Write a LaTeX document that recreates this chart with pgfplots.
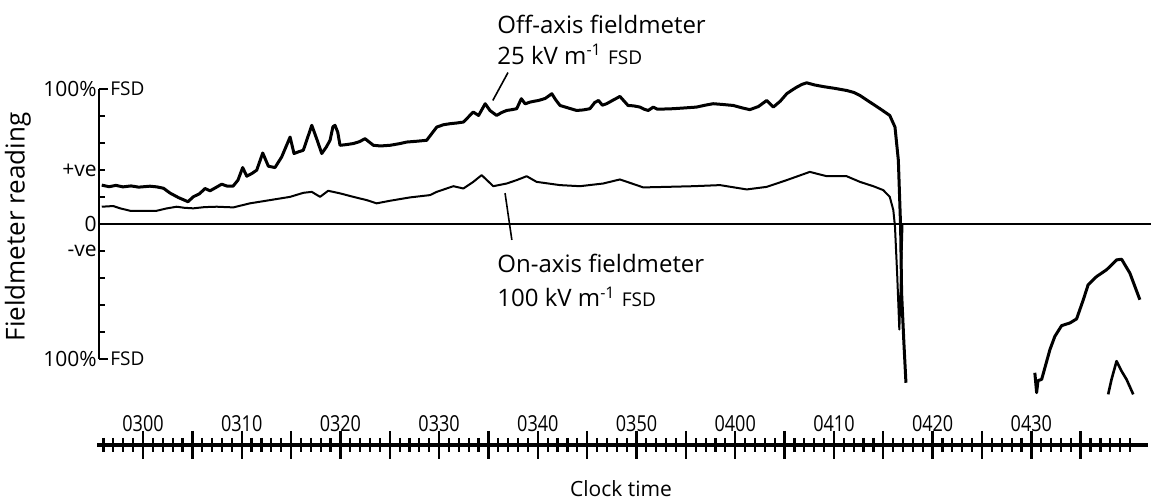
\documentclass[border=0pt]{standalone}
\usepackage{fontspec}
\setmainfont{Open Sans}
\newfontfamily\condfont{Open Sans}[FakeStretch=0.82]
\usepackage{pgfplots}
\pgfplotsset{compat=1.18}

\begin{document}
\begin{tikzpicture}
\path[use as bounding box] (0,0) rectangle (575.5pt,251pt);

% ---------------- data axis (x: minutes after 0300, y: % of FSD) ----------------
\begin{axis}[
  at={(49.5pt,71.5pt)}, anchor=south west,
  scale only axis, width=526pt, height=135pt,
  xmin=-4.46, xmax=102.13, ymin=-100, ymax=100,
  clip=false,
  axis x line=middle, axis y line=left,
  axis line style={-, line width=1.4pt},
  hide obscured x ticks=false, hide obscured y ticks=false,
  xtick=\empty,
  ytick={-100,-80,...,100},
  yticklabels={100\%,,,,-ve,0,,+ve,,,100\%},
  tick align=inside,
  major tick length=3pt,
  every tick/.style={black, line width=1pt},
  yticklabel style={font=\fontsize{10.5}{12}\selectfont, inner sep=1pt},
  extra y ticks={-100,100},
  extra y tick labels={},
  extra y tick style={major tick length=4.5pt},
]
% Off-axis fieldmeter (25 kV/m FSD)
\addplot[line width=1.5pt, line join=round] coordinates {
(-4.18,28.8) (-3.43,27.6) (-2.75,28.6) (-2.03,27.5) (-1.21,28.2) (-0.44,27.3) (0.71,28.0) (1.39,27.5) (2.07,26.5) (2.74,22.9) (3.61,19.5) (4.56,16.5) (5.08,20.1) (5.74,22.5) (6.28,26.3) (6.79,24.6) (7.38,27.0) (7.97,29.5) (8.54,28.0) (9.12,28.0) (9.62,32.5) (10.1,41.8) (10.51,35.4) (11.05,37.5) (11.52,39.9) (12.13,52.6) (12.7,42.8) (13.37,41.8) (14.05,49.7) (14.9,64.4) (15.3,52.2) (15.77,53.5) (16.24,54.6) (17.1,73.1) (17.6,63) (18.11,52.2) (18.57,57) (18.95,62.0) (19.24,72) (19.45,73.1) (19.73,68) (19.96,58.3) (20.59,58.8) (21.31,59.6) (21.94,61) (22.49,63.2) (23.34,58.3) (24.06,57.8) (25.02,58.3) (25.99,59.5) (26.71,60.7) (27.73,61.3) (28.74,62.0) (29.76,71.8) (30.43,73.5) (31.11,74.3) (31.78,74.8) (32.46,75.5) (32.93,79) (33.46,82.9) (34.0,80.4) (34.67,89.1) (35.16,84) (35.83,80.4) (36.31,82.5) (36.85,84.1) (37.37,84.7) (37.86,85.4) (38.33,92.8) (38.72,89) (39.21,90.3) (39.68,91) (40.07,91.5) (40.75,93) (41.42,96.5) (41.81,92) (42.25,87.8) (43.06,86) (43.93,84.1) (44.61,84.5) (45.28,85.4) (45.77,90) (46.15,91.5) (46.54,88) (46.97,89.1) (47.69,92) (48.32,94.5) (48.75,91) (49.14,87.8) (49.71,87.5) (50.35,86.6) (50.78,85) (51.19,84.1) (51.7,86.6) (52.13,85) (53.72,85.4) (54.92,86) (56.08,86.6) (56.95,88) (57.77,89.1) (58.78,88.5) (59.81,87.8) (60.71,86) (61.48,84.7) (62.35,87) (63.19,91.5) (63.86,86.6) (64.57,91) (65.22,96.5) (65.72,99) (66.22,101.3) (66.79,103.5) (67.24,104.6) (68.04,103) (68.91,101.8) (70.07,100.5) (71.29,98.9) (72.0,97.5) (72.64,95.2) (73.65,90.3) (74.67,85.4) (75.66,80.4) (76.19,71.8) (76.53,47.2) (76.76,-2.0) (76.86,-50.9) (77.09,-87.8) (77.3,-117.6)
};
% On-axis fieldmeter (100 kV/m FSD)
\addplot[line width=1.0pt, line join=round] coordinates {
(-4.18,12.8) (-3.02,13.3) (-2.32,11.6) (-1.31,9.8) (-0.05,9.8) (1.39,9.8) (2.37,11.5) (3.41,12.8) (4.19,12) (5.1,11.6) (6.22,12.5) (7.47,12.8) (9.15,12.3) (10.84,15.3) (12.87,17.7) (14.9,20.1) (16.25,23.1) (17.1,23.8) (17.94,20.1) (18.76,24.6) (19.96,22.7) (21.31,20.1) (22.66,17.7) (23.67,15.3) (25.02,17.2) (27.06,19.7) (29.08,21.4) (29.76,23.8) (31.44,28.0) (32.46,26.3) (33.46,31.2) (34.31,36.2) (35.49,28.0) (36.85,30.0) (37.86,32.5) (38.87,35.4) (39.88,31.2) (42.25,28.8) (44.27,28.0) (46.63,30.0) (48.32,33.0) (50.01,28.8) (50.68,27.1) (53.05,27.5) (55.75,28.0) (58.46,28.8) (61.17,25.6) (63.19,27.5) (65.22,32.5) (67.56,38.6) (69.27,35.4) (71.29,35.4) (72.64,31.2) (73.99,28.0) (75.0,25.1) (75.66,20.1) (76.02,10.3) (76.19,-2.0) (76.42,-38.9) (76.63,-78.2) (76.8,-38.4) (76.95,0)
};
% recovery traces
\addplot[line width=1.5pt, line join=round] coordinates {
(90.36,-110.2) (90.54,-124.9) (90.68,-116) (91.05,-115.1) (91.89,-93.0) (92.39,-83.2) (93.07,-75.3) (93.92,-73.3) (94.59,-70.3) (95.27,-56.1) (95.76,-45.0) (96.62,-38.9) (97.63,-33.9) (98.64,-26.6) (99.15,-26.1) (99.99,-36.4) (101.0,-56.1)
};
\addplot[line width=1.3pt, line join=round] coordinates {
(97.79,-126.2) (98.13,-115.1) (98.64,-101.6) (99.15,-109.0) (99.65,-115.1) (100.33,-126.2)
};

% labels
\node[rotate=90, font=\fontsize{13}{15}\selectfont] at (axis cs:-12.67,-2.2) {Fieldmeter reading};
\node[anchor=west, inner sep=0pt, xshift=5.5pt, font=\fontsize{9.5}{11}\selectfont] at (axis cs:-4.46,100) {FSD};
\node[anchor=west, inner sep=0pt, xshift=5.5pt, font=\fontsize{9.5}{11}\selectfont] at (axis cs:-4.46,-100) {FSD};

\node[anchor=base west, inner sep=0pt, font=\fontsize{12}{14}\selectfont] at (axis cs:35.87,141) {Off-axis fieldmeter};
\node[anchor=base west, inner sep=0pt, font=\fontsize{12}{14}\selectfont] at (axis cs:35.87,118.1) {25 kV m\textsuperscript{-1} {\fontsize{9.5}{11}\selectfont FSD}};
\draw[line width=0.8pt] (axis cs:36.98,112.2) -- (axis cs:35.44,91.5);

\node[anchor=base west, inner sep=0pt, font=\fontsize{12}{14}\selectfont] at (axis cs:35.87,-36.2) {On-axis fieldmeter};
\node[anchor=base west, inner sep=0pt, font=\fontsize{12}{14}\selectfont] at (axis cs:35.87,-61.3) {100 kV m\textsuperscript{-1} {\fontsize{9.5}{11}\selectfont FSD}};
\draw[line width=0.8pt] (axis cs:36.68,22.9) -- (axis cs:37.37,-11.8);
\end{axis}

% ---------------- time ruler ----------------
\begin{axis}[
  at={(48.5pt,28.5pt)}, anchor=north west,
  scale only axis, width=525.5pt, height=10pt,
  xmin=-4.66, xmax=101.82, ymin=0, ymax=1,
  clip=false,
  axis x line=top, axis y line=none,
  axis line style={-, line width=1.6pt},
  xtick={0,5,...,95},
  xticklabels={0300,,0310,,0320,,0330,,0340,,0350,,0400,,0410,,0420,,0430,},
  minor xtick={-4,-3,...,100},
  tick align=center,
  major tick length=14pt, minor tick length=7pt,
  every major tick/.style={black, line width=1.2pt},
  every minor tick/.style={black, line width=1.1pt},
  xticklabel style={font=\condfont\fontsize{11}{13}\selectfont, yshift=-4pt},
]
\addplot[draw=none] coordinates {(0,0.5) (90,0.5)};
\node[font=\fontsize{10.5}{12}\selectfont] at (axis cs:48.43,-1.2) {Clock time};
\end{axis}
\end{tikzpicture}
\end{document}
